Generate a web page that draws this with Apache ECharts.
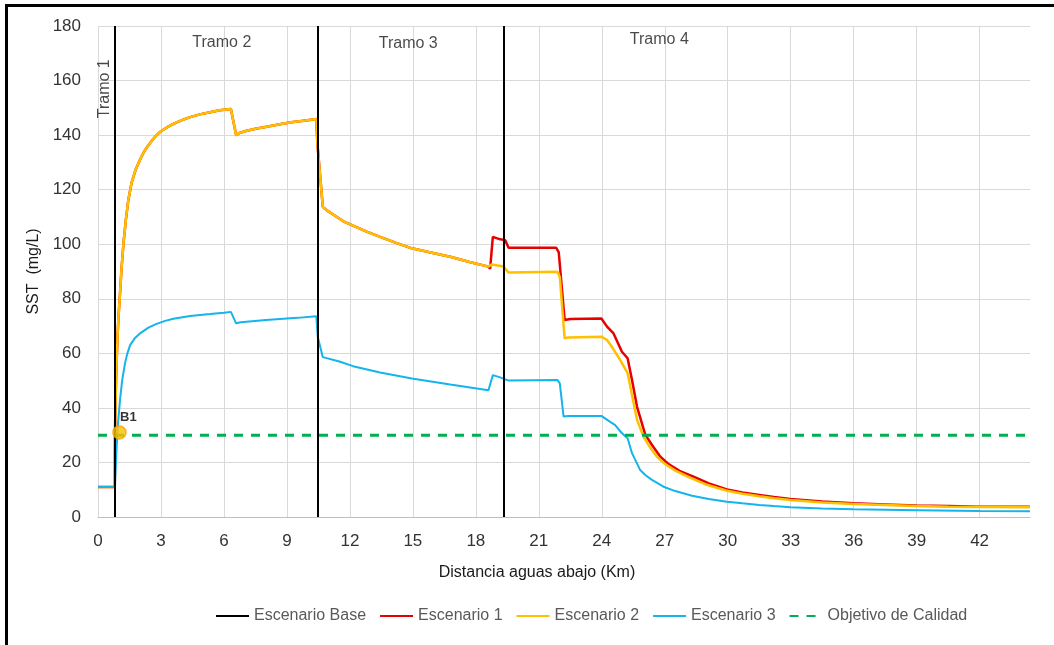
<!DOCTYPE html>
<html>
<head>
<meta charset="utf-8">
<script src="https://cdn.jsdelivr.net/npm/echarts@6/dist/echarts.min.js"></script>
<style>
  html, body { margin: 0; padding: 0; background: #fff; }
  #chart { width: 1054px; height: 645px; }
  #frame { position: absolute; left: 5px; top: 4px; width: 1100px; height: 700px;
           border-left: 3px solid #000; border-top: 3px solid #000; pointer-events: none; }
</style>
</head>
<body>
<div id="chart"></div>
<div id="frame"></div>
<script>
// ---- Data (km, mg/L) ----
const tramoBreaks = [0.81, 10.47, 19.35];
const escenario1 = [[0,11],[0.8,11],[0.81,31],[0.83,40],[0.86,50],[0.89,57.5],[0.93,66],[0.98,74],[1.05,82],[1.12,91],[1.21,100],[1.32,108.5],[1.44,116],[1.6,122.5],[1.8,127.5],[2.0,131],[2.2,134],[2.4,136.3],[2.6,138.3],[2.79,140],[3.0,141.4],[3.3,142.9],[3.59,144.1],[4.0,145.5],[4.39,146.6],[4.85,147.6],[5.34,148.4],[5.8,149.1],[6.33,149.6],[6.58,140],[6.75,140.8],[7.0,141.4],[7.5,142.3],[8.04,143.1],[8.6,143.9],[9.2,144.7],[9.8,145.3],[10.4,145.9],[10.45,137],[10.71,113.7],[10.9,112.4],[11.2,110.9],[11.69,108.4],[12.15,106.8],[12.8,104.6],[13.44,102.7],[14.2,100.5],[14.95,98.5],[15.9,96.9],[16.78,95.4],[17.7,93.5],[18.6,91.8],[18.68,91.0],[18.81,102.7],[19.16,101.8],[19.4,101.5],[19.56,98.7],[21.83,98.7],[21.95,97],[22.23,72.2],[22.5,72.6],[23.98,72.8],[24.25,69.8],[24.56,67.3],[24.96,60.6],[25.23,58.2],[25.44,50.2],[25.68,40.4],[26.07,30.2],[26.4,26.3],[26.79,22.1],[27.2,19.3],[27.7,16.9],[28.37,14.8],[29.1,12.3],[29.96,10.1],[30.7,9.0],[31.5,8.1],[32.2,7.3],[32.98,6.6],[34.5,5.7],[36.0,5.0],[37.5,4.6],[39.0,4.2],[40.5,4.0],[42.0,3.8],[44.4,3.8]];
const escenario2 = [[0,11],[0.8,11],[0.81,31],[0.83,40],[0.86,50],[0.89,57.5],[0.93,66],[0.98,74],[1.05,82],[1.12,91],[1.21,100],[1.32,108.5],[1.44,116],[1.6,122.5],[1.8,127.5],[2.0,131],[2.2,134],[2.4,136.3],[2.6,138.3],[2.79,140],[3.0,141.4],[3.3,142.9],[3.59,144.1],[4.0,145.5],[4.39,146.6],[4.85,147.6],[5.34,148.4],[5.8,149.1],[6.33,149.6],[6.58,140],[6.75,140.8],[7.0,141.4],[7.5,142.3],[8.04,143.1],[8.6,143.9],[9.2,144.7],[9.8,145.3],[10.4,145.9],[10.45,137],[10.71,113.7],[10.9,112.4],[11.2,110.9],[11.69,108.4],[12.15,106.8],[12.8,104.6],[13.44,102.7],[14.2,100.5],[14.95,98.5],[15.9,96.9],[16.78,95.4],[17.7,93.5],[18.6,91.8],[18.68,91.2],[18.76,92.6],[19.32,91.8],[19.56,89.6],[21.89,89.9],[22.0,88],[22.23,65.5],[22.4,65.8],[23.98,66.1],[24.25,64.9],[24.48,62.4],[24.88,57.5],[25.23,52.7],[25.39,46.6],[25.68,35.6],[25.99,29.4],[26.3,25.5],[26.63,22.1],[27.0,19.5],[27.5,17.0],[28.2,14.4],[29.0,11.8],[29.96,9.6],[30.7,8.5],[31.5,7.6],[32.2,6.9],[32.98,6.2],[34.5,5.3],[36.0,4.8],[37.5,4.4],[39.0,4.0],[40.5,3.8],[42.0,3.7],[44.4,3.6]];
const escenario3 = [[0,11],[0.8,11],[0.81,12],[0.85,19],[0.89,26],[0.95,34],[1.05,43],[1.15,50],[1.29,56.5],[1.4,60],[1.53,63],[1.75,65.5],[2.0,67.3],[2.4,69.4],[2.79,70.8],[3.2,71.9],[3.59,72.7],[4.39,73.7],[5.34,74.4],[6.0,74.9],[6.33,75.2],[6.58,71],[6.8,71.4],[8.0,72.2],[9.5,73],[10.4,73.6],[10.47,66],[10.71,58.6],[11.5,57],[12.15,55.3],[13.44,53],[14.95,50.8],[16.78,48.6],[18.6,46.5],[18.81,52],[19.16,51.2],[19.56,50],[21.89,50.2],[22.0,49],[22.18,36.8],[22.4,37],[24.0,37.0],[24.4,34.9],[24.64,33.7],[24.96,30.7],[25.23,28.9],[25.44,23.4],[25.83,17.2],[26.1,15.2],[26.39,13.6],[26.94,11.1],[27.5,9.5],[28.3,7.8],[29.1,6.6],[29.96,5.6],[30.7,5.0],[31.5,4.4],[32.2,4.0],[32.98,3.6],[34.5,3.1],[36.0,2.8],[39.0,2.5],[42.0,2.2],[44.4,2.1]];
const objetivo = [[0,30],[44.4,30]];
const puntoB1 = [[1.02,31]];
const tramoLabels = [
  {name: 'Tramo 1', value: [0.33, 157], rot: 90},
  {name: 'Tramo 2', value: [5.9, 174], rot: 0},
  {name: 'Tramo 3', value: [14.78, 173.5], rot: 0},
  {name: 'Tramo 4', value: [26.74, 175], rot: 0}
];
const legendNames = ['Escenario Base','Escenario 1','Escenario 2','Escenario 3','Objetivo de Calidad'];

const FONT = "'Liberation Sans', Arial, sans-serif";
const chart = echarts.init(document.getElementById('chart'), null, {renderer: 'canvas'});
chart.setOption({
  backgroundColor: '#fff',
  animation: false,
  textStyle: {fontFamily: FONT},
  grid: {left: 98, right: 24, top: 26, bottom: 128, containLabel: false},
  legend: {
    data: legendNames, left: 210, top: 603, itemWidth: 33, itemHeight: 12, itemGap: 13,
    itemStyle: {opacity: 0},
    textStyle: {fontFamily: FONT, fontSize: 16, color: '#595959'}
  },
  xAxis: {
    type: 'value', min: 0, max: 44.4, interval: 3,
    name: 'Distancia aguas abajo (Km)', nameLocation: 'middle', nameGap: 48,
    nameTextStyle: {fontFamily: FONT, fontSize: 16, color: '#1a1a1a', padding: [0, 54, 0, 0]},
    axisLine: {show: true, lineStyle: {color: '#bfbfbf', width: 1}},
    axisTick: {show: false},
    axisLabel: {fontFamily: FONT, fontSize: 17, color: '#333', margin: 16, showMaxLabel: false},
    splitLine: {show: true, showMaxLine: false, lineStyle: {color: '#d9d9d9', width: 1}}
  },
  yAxis: {
    type: 'value', min: 0, max: 180, interval: 20,
    name: 'SST  (mg/L)', nameLocation: 'middle', nameGap: 56,
    nameTextStyle: {fontFamily: FONT, fontSize: 16, color: '#1a1a1a'},
    axisLine: {show: false}, axisTick: {show: false},
    axisLabel: {fontFamily: FONT, fontSize: 17, color: '#333', margin: 17},
    splitLine: {show: true, lineStyle: {color: '#d9d9d9', width: 1}}
  },
  series: [
    {
      name: 'Escenario Base', type: 'line', data: [], symbol: 'none',
      color: '#000', lineStyle: {color: '#000', width: 2},
      markLine: {
        silent: true, symbol: 'none', label: {show: false},
        lineStyle: {color: '#000', width: 2, type: 'solid'},
        data: tramoBreaks.map(b => ({xAxis: b}))
      }
    },
    {name: 'Escenario 1', type: 'line', data: escenario1, symbol: 'none', color: '#e60000',
     lineStyle: {color: '#e60000', width: 2.5}},
    {name: 'Escenario 2', type: 'line', data: escenario2, symbol: 'none', color: '#ffc000',
     lineStyle: {color: '#ffc000', width: 2.5}},
    {name: 'Escenario 3', type: 'line', data: escenario3, symbol: 'none', color: '#14b4ec',
     lineStyle: {color: '#14b4ec', width: 2}},
    {name: 'Objetivo de Calidad', type: 'line', data: objetivo, symbol: 'none', color: '#00b050',
     lineStyle: {color: '#00b050', width: 3, type: [9, 8]}},
    {
      name: 'B1', type: 'scatter', data: puntoB1, symbol: 'circle', symbolSize: 13,
      itemStyle: {color: '#ffc000', borderColor: '#f5a000', borderWidth: 1.5},
      label: {show: true, formatter: 'B1', position: 'top', distance: 1, offset: [9, 0],
              fontFamily: FONT, fontSize: 13, fontWeight: 'bold', color: '#000'},
      silent: true, z: 5
    },
    {
      name: 'tramos', type: 'scatter', symbolSize: 0, silent: true,
      data: tramoLabels.map(t => ({name: t.name, value: t.value,
        label: {rotate: t.rot}})),
      label: {show: true, position: 'inside', formatter: '{b}', fontFamily: FONT,
              fontSize: 16, color: '#1a1a1a', textBorderWidth: 0}
    }
  ]
});
</script>
</body>
</html>
